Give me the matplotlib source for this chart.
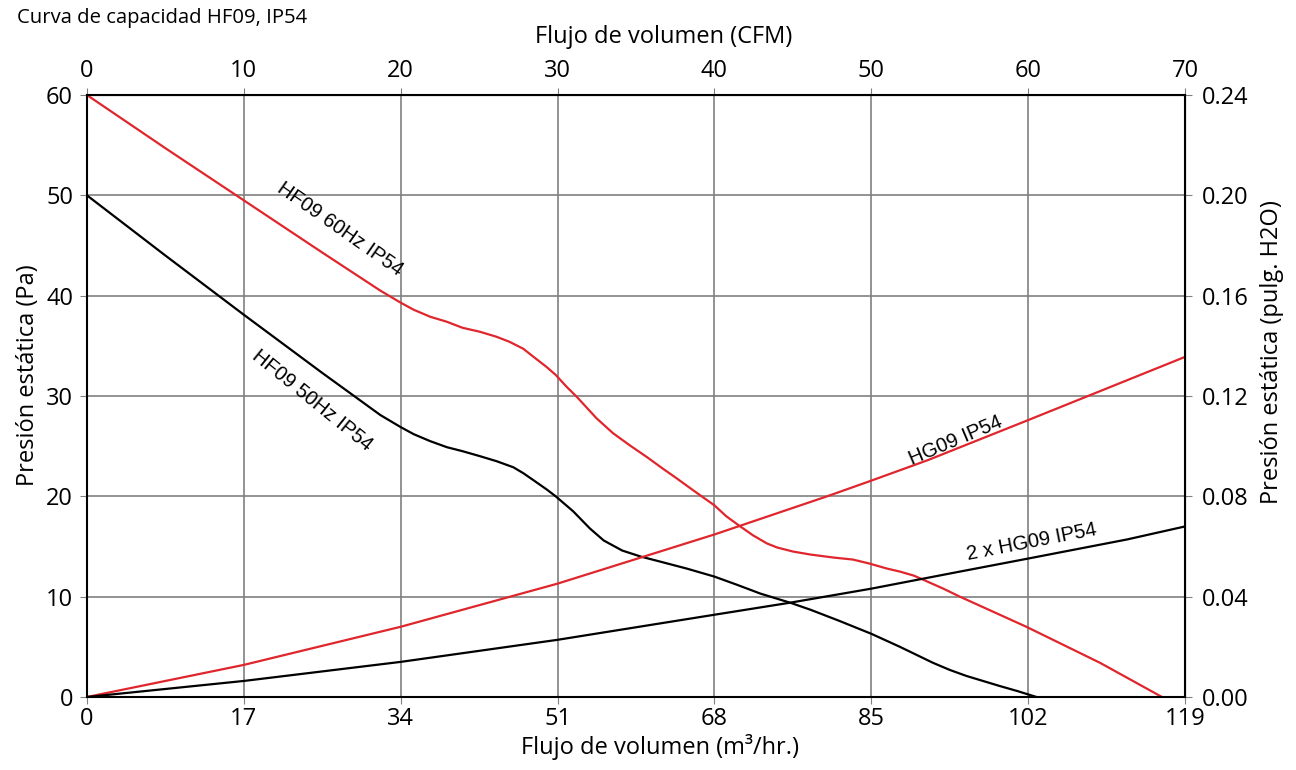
import numpy as np
import matplotlib
matplotlib.use("Agg")
import matplotlib.pyplot as plt

# data (m3/hr, Pa)
hf60_x = [0, 8.5, 17, 25.5, 31.8, 34, 35.4, 37.2, 39.0, 40.7, 42.6, 44.4, 45.8, 47.3,
          48.4, 49.8, 50.8, 52.0, 53.1, 54.2, 55.2, 57.0, 58.8, 60.7, 62.5, 63.9, 65.7,
          68, 69.3, 70.8, 72.2, 73.7, 74.8, 76.5, 78.4, 80.9, 83.0, 84.8, 86.7, 88.1,
          89.6, 90.6, 92.8, 94.6, 101.8, 109.8, 116.5]
hf60_y = [60, 54.7, 49.5, 44.3, 40.5, 39.3, 38.6, 37.9, 37.4, 36.8, 36.4, 35.9, 35.4, 34.7,
          33.9, 32.9, 32.1, 30.9, 29.9, 28.8, 27.8, 26.3, 25.1, 23.9, 22.7, 21.8, 20.6,
          19.1, 18.0, 17.0, 16.1, 15.3, 14.9, 14.5, 14.2, 13.9, 13.7, 13.3, 12.8, 12.5,
          12.1, 11.7, 10.8, 10.0, 7.0, 3.4, 0]

hf50_x = [0, 8.5, 17, 25.5, 31.8, 34, 35.4, 37.2, 39.0, 40.7, 42.6, 44.4, 46.2, 47.3,
          48.4, 49.8, 50.8, 52.7, 54.5, 56.0, 58.0, 60.0, 62.1, 65, 68, 70.4, 73, 76.2,
          78.4, 81.5, 85, 88.1, 89.9, 91.7, 93.5, 95.3, 97.1, 98.9, 100.8, 102.9]
hf50_y = [50, 44.0, 38.1, 32.3, 28.1, 26.9, 26.2, 25.5, 24.9, 24.5, 24.0, 23.5, 22.9, 22.3,
          21.6, 20.7, 20.0, 18.5, 16.8, 15.6, 14.6, 14.0, 13.5, 12.8, 12.0, 11.2, 10.3, 9.4,
          8.7, 7.6, 6.3, 5.0, 4.2, 3.4, 2.7, 2.1, 1.6, 1.1, 0.6, 0]

hg09_x = [0, 17, 34, 51, 62.1, 68, 80.2, 84.8, 91.1, 102, 119]
hg09_y = [0, 3.2, 7.0, 11.3, 14.5, 16.2, 20.0, 21.5, 23.6, 27.6, 33.9]

hg2_x = [0, 17, 34, 51, 68, 76.2, 85, 94.6, 102, 112.7, 119]
hg2_y = [0, 1.6, 3.5, 5.7, 8.2, 9.4, 10.8, 12.5, 13.8, 15.7, 17.0]

x_ticks = [0, 17, 34, 51, 68, 85, 102, 119]
cfm_ticks = [0, 10, 20, 30, 40, 50, 60, 70]
y_ticks = [0, 10, 20, 30, 40, 50, 60]
inh2o_ticks = [0, 0.04, 0.08, 0.12, 0.16, 0.20, 0.24]

red = "#e0262d"
tick_font = "Open Sans"
lab_font = "Liberation Sans"
fs = 17

fig = plt.figure(figsize=(12.96, 7.70), dpi=100)
ax = fig.add_axes([0.0671, 0.0948, 0.8473, 0.7818])

ax.plot(hf60_x, hf60_y, color=red, lw=1.6)
ax.plot(hf50_x, hf50_y, color="black", lw=1.6)
ax.plot(hg09_x, hg09_y, color=red, lw=1.6)
ax.plot(hg2_x, hg2_y, color="black", lw=1.6)

ax.set_xlim(0, 119)
ax.set_ylim(0, 60)
ax.set_xticks(x_ticks)
ax.set_yticks(y_ticks)
ax.grid(True, color="#808080", lw=1.2)
ax.set_axisbelow(True)
ax.tick_params(direction="out", length=5, width=0.8, color="#808080", labelsize=fs)
ax.tick_params(axis="x", pad=2)
ax.tick_params(axis="y", pad=5)
for lbl in ax.get_xticklabels() + ax.get_yticklabels():
    lbl.set_fontfamily(tick_font)
for s in ax.spines.values():
    s.set_color("black")
    s.set_linewidth(1.5)

ax.set_xlabel("Flujo de volumen (m³/hr.)", fontsize=fs, family=tick_font, x=0.522, labelpad=2)
ax.set_ylabel("Presión estática (Pa)", fontsize=fs, family=tick_font, y=0.535, labelpad=4)

top = ax.secondary_xaxis("top", functions=(lambda v: v / 1.7, lambda v: v * 1.7))
top.set_xticks(cfm_ticks)
top.tick_params(direction="out", length=5, width=0.8, color="#808080", labelsize=fs, pad=4)
for lbl in top.get_xticklabels():
    lbl.set_fontfamily(tick_font)
top.set_xlabel("Flujo de volumen (CFM)", fontsize=fs, family=tick_font, x=0.525, labelpad=11)

right = ax.secondary_yaxis("right", functions=(lambda v: v * 0.004, lambda v: v / 0.004))
right.set_yticks(inh2o_ticks)
right.set_yticklabels(["%.2f" % t for t in inh2o_ticks])
right.tick_params(direction="out", length=5, width=0.8, color="#808080", labelsize=fs, pad=7)
for lbl in right.get_yticklabels():
    lbl.set_fontfamily(tick_font)
right.set_ylabel("Presión estática (pulg. H2O)", fontsize=fs, family=tick_font, y=0.573,
                 labelpad=8)

ax.text(27.4, 46.6, "HF09 60Hz IP54", rotation=-35, fontsize=14.5, family=lab_font,
        ha="center", va="center", rotation_mode="anchor")
ax.text(24.4, 29.6, "HF09 50Hz IP54", rotation=-39, fontsize=14.5, family=lab_font,
        ha="center", va="center", rotation_mode="anchor")
ax.text(94.1, 25.6, "HG09 IP54", rotation=23, fontsize=14.5, family=lab_font,
        ha="center", va="center", rotation_mode="anchor")
ax.text(102.4, 15.4, "2 x HG09 IP54", rotation=11, fontsize=14.5, family=lab_font,
        ha="center", va="center", rotation_mode="anchor")

fig.text(0.013, 0.977, "Curva de capacidad HF09, IP54", fontsize=14.6, family=tick_font,
         ha="left", va="center")

fig.savefig("out.png", dpi=100)
